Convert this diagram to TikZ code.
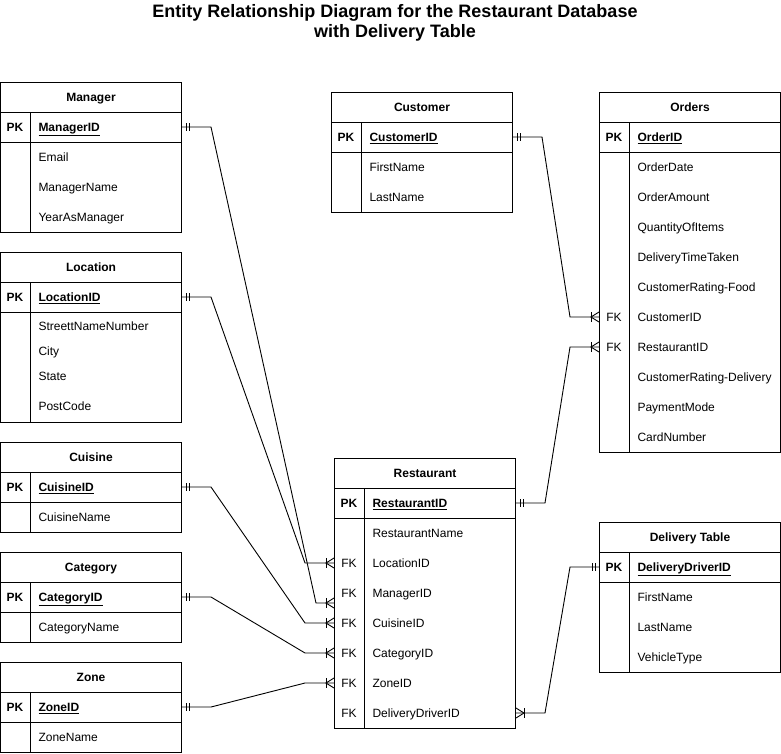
\documentclass[tikz,border=0pt]{standalone}
\usepackage{fontspec}
\setmainfont{Liberation Sans}
\newcommand\erow[5]{%
  \node[rowbox] (#1) at (#2,#3) {};
  \node[keytxt] at ([xshift=15pt]#1.west) {#4};
  \node[fldtxt] at ([xshift=38pt]#1.west) {#5};}
\newcommand\ertable[5]{% name, x, ytop, title, body height
  \node[hdr] (#1) at (#2,#3) {#4};
  \draw (#2,#3+30) rectangle (#2+181,#3+60);
  \draw (#2,#3+60) rectangle (#2+181,#3+60+#5);
  \draw (#2+30,#3+30) -- (#2+30,#3+60+#5);}
\newcommand\erone[2]{% point, direction away from entity
  \draw[conn] ([xshift=#2*4pt]#1) ++(0,-4) -- ++(0,8);
  \draw[conn] ([xshift=#2*7pt]#1) ++(0,-4) -- ++(0,8);}
\newcommand\ermany[2]{% point, direction away from entity
  \draw[conn] ([xshift=#2*8pt]#1) ++(0,-5) -- ++(0,10);
  \draw[conn] ([yshift=5pt]#1) -- ([xshift=#2*8pt]#1) -- ([yshift=-5pt]#1);}
\begin{document}
\begin{tikzpicture}[x=1pt,y=-1pt,line width=1pt,
  hdr/.style={draw, anchor=north west, minimum width=181pt, minimum height=30pt, inner sep=0pt,
    text height=9pt, text depth=0.5pt, font=\bfseries\fontsize{12}{14}\selectfont},
  rowbox/.style={anchor=west, minimum width=181pt, minimum height=30pt, inner sep=0pt},
  keytxt/.style={inner sep=0pt, text height=9pt, text depth=0.5pt, font=\fontsize{12}{14}\selectfont},
  fldtxt/.style={anchor=west, inner sep=0pt, text height=9pt, text depth=0.5pt, font=\fontsize{12}{14}\selectfont},
  conn/.style={line width=0.9pt},
  titletxt/.style={align=center, font=\bfseries\fontsize{18}{20.5}\selectfont}]
\useasboundingbox (0,0) rectangle (781,753);
\node[titletxt] (title) at (395,23) {Entity Relationship Diagram for the Restaurant Database\\with Delivery Table};

% Manager
\ertable{mgr}{0}{82}{Manager}{90}
\erow{mgr-pk}{0}{127}{\textbf{PK}}{\textbf{\underline{ManagerID}}}
\erow{mgr-f1}{0}{157}{}{Email}
\erow{mgr-f2}{0}{187}{}{ManagerName}
\erow{mgr-f3}{0}{217}{}{YearAsManager}

% Location
\ertable{loc}{0}{252}{Location}{110}
\erow{loc-pk}{0}{297}{\textbf{PK}}{\textbf{\underline{LocationID}}}
\erow{loc-f1}{0}{326}{}{StreettNameNumber}
\erow{loc-f2}{0}{351}{}{City}
\erow{loc-f3}{0}{376}{}{State}
\erow{loc-f4}{0}{406}{}{PostCode}

% Cuisine
\ertable{cui}{0}{442}{Cuisine}{30}
\erow{cui-pk}{0}{487}{\textbf{PK}}{\textbf{\underline{CuisineID}}}
\erow{cui-f1}{0}{517}{}{CuisineName}

% Category
\ertable{cat}{0}{552}{Category}{30}
\erow{cat-pk}{0}{597}{\textbf{PK}}{\textbf{\underline{CategoryID}}}
\erow{cat-f1}{0}{627}{}{CategoryName}

% Zone
\ertable{zon}{0}{662}{Zone}{30}
\erow{zon-pk}{0}{707}{\textbf{PK}}{\textbf{\underline{ZoneID}}}
\erow{zon-f1}{0}{737}{}{ZoneName}

% Customer
\ertable{cus}{331}{92}{Customer}{60}
\erow{cus-pk}{331}{137}{\textbf{PK}}{\textbf{\underline{CustomerID}}}
\erow{cus-f1}{331}{167}{}{FirstName}
\erow{cus-f2}{331}{197}{}{LastName}

% Orders
\ertable{ord}{599}{92}{Orders}{300}
\erow{o-pk}{599}{137}{\textbf{PK}}{\textbf{\underline{OrderID}}}
\erow{o-f1}{599}{167}{}{OrderDate}
\erow{o-f2}{599}{197}{}{OrderAmount}
\erow{o-f3}{599}{227}{}{QuantityOfItems}
\erow{o-f4}{599}{257}{}{DeliveryTimeTaken}
\erow{o-f5}{599}{287}{}{CustomerRating-Food}
\erow{o-cus}{599}{317}{FK}{CustomerID}
\erow{o-res}{599}{347}{FK}{RestaurantID}
\erow{o-f8}{599}{377}{}{CustomerRating-Delivery}
\erow{o-f9}{599}{407}{}{PaymentMode}
\erow{o-f10}{599}{437}{}{CardNumber}

% Restaurant
\ertable{res}{334}{458}{Restaurant}{210}
\erow{r-pk}{334}{503}{\textbf{PK}}{\textbf{\underline{RestaurantID}}}
\erow{r-f1}{334}{533}{}{RestaurantName}
\erow{r-loc}{334}{563}{FK}{LocationID}
\erow{r-mgr}{334}{593}{FK}{ManagerID}
\erow{r-cui}{334}{623}{FK}{CuisineID}
\erow{r-cat}{334}{653}{FK}{CategoryID}
\erow{r-zon}{334}{683}{FK}{ZoneID}
\erow{r-del}{334}{713}{FK}{DeliveryDriverID}
\coordinate (r-mgr-end) at ([yshift=-10pt]r-mgr.west);

% Delivery Table
\ertable{del}{599}{522}{Delivery Table}{90}
\erow{d-pk}{599}{567}{\textbf{PK}}{\textbf{\underline{DeliveryDriverID}}}
\erow{d-f1}{599}{597}{}{FirstName}
\erow{d-f2}{599}{627}{}{LastName}
\erow{d-f3}{599}{657}{}{VehicleType}

% Connectors
\draw[conn] (mgr-pk.east) -- ++(29,0) -- ([xshift=-18pt]r-mgr-end) -- (r-mgr-end);
\draw[conn] (loc-pk.east) -- ++(29,0) -- ([xshift=-29pt]r-loc.west) -- (r-loc.west);
\draw[conn] (cui-pk.east) -- ++(29,0) -- ([xshift=-29pt]r-cui.west) -- (r-cui.west);
\draw[conn] (cat-pk.east) -- ++(29,0) -- ([xshift=-29pt]r-cat.west) -- (r-cat.west);
\draw[conn] (zon-pk.east) -- ++(29,0) -- ([xshift=-29pt]r-zon.west) -- (r-zon.west);
\draw[conn] (cus-pk.east) -- ++(29,0) -- ([xshift=-29pt]o-cus.west) -- (o-cus.west);
\draw[conn] (r-pk.east) -- ++(29,0) -- ([xshift=-29pt]o-res.west) -- (o-res.west);
\draw[conn] (d-pk.west) -- ++(-29,0) -- ([xshift=29pt]r-del.east) -- (r-del.east);

\erone{mgr-pk.east}{1}
\erone{loc-pk.east}{1}
\erone{cui-pk.east}{1}
\erone{cat-pk.east}{1}
\erone{zon-pk.east}{1}
\erone{cus-pk.east}{1}
\erone{r-pk.east}{1}
\erone{d-pk.west}{-1}
\ermany{r-mgr-end}{-1}
\ermany{r-loc.west}{-1}
\ermany{r-cui.west}{-1}
\ermany{r-cat.west}{-1}
\ermany{r-zon.west}{-1}
\ermany{o-cus.west}{-1}
\ermany{o-res.west}{-1}
\ermany{r-del.east}{1}
\end{tikzpicture}
\end{document}
